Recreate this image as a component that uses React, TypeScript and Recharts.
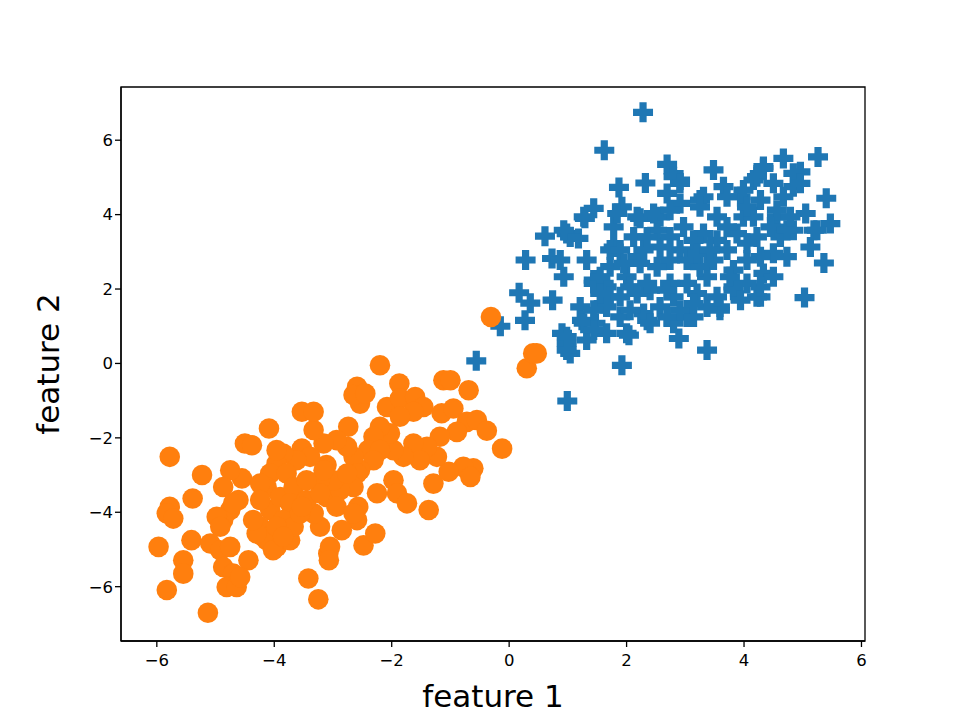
import { ScatterChart, Scatter, XAxis, YAxis, ReferenceArea } from "recharts";

// class 0 (blue, plus markers) — [feature 1, feature 2]
const class0: [number, number][] = [
  [2.28, 6.75], [1.62, 5.73], [2.69, 5.35], [2.32, 4.85], [4.67, 5.51], [5.26, 5.55], [4.96, 5.15], [3.48, 5.2],
  [4.33, 5.29], [1.87, 4.73], [5.4, 4.44], [5.05, 4.03], [5.47, 3.76], [5.36, 2.7], [5.03, 1.77], [4.28, 1.79],
  [3.37, 0.36], [2.89, 0.67], [1.92, -0.05], [0.99, -1.01], [-0.56, 0.07], [-0.15, 1.0], [0.27, 1.16], [0.17, 1.9],
  [0.36, 1.62], [0.74, 1.7], [0.28, 2.78], [0.73, 2.82], [0.87, 2.78], [0.93, 2.33], [0.61, 3.42], [0.98, 3.49],
  [1.18, 3.36], [1.32, 2.78], [1.29, 3.9], [1.44, 4.17], [0.9, 0.81], [0.98, 0.54], [1.04, 0.27], [1.32, 0.63],
  [1.21, 1.52], [1.24, 1.16], [1.47, 1.08], [1.66, 0.81], [2.04, 0.76], [1.44, 2.24], [1.78, 3.13], [1.92, 4.21],
  [2.23, 3.9], [2.57, 3.94], [2.69, 4.57], [2.91, 4.93], [3.25, 4.39], [3.65, 4.75], [3.94, 4.48], [4.16, 4.93],
  [4.5, 4.84], [4.84, 4.75], [5.19, 3.58], [4.73, 2.87], [4.5, 2.96], [5.13, 3.13], [3.82, 1.97], [3.59, 1.43],
  [3.14, 1.25], [2.8, 1.08], [2.35, 1.16], [1.89, 1.25], [1.61, 1.61], [1.66, 2.06], [4.56, 3.94], [4.84, 3.58],
  [4.62, 3.4], [2.8, 5.02], [2.91, 4.84], [2.91, 4.3], [3.31, 4.48], [3.25, 4.21], [3.71, 4.48], [3.99, 4.66],
  [4.22, 5.02], [4.33, 5.24], [4.84, 5.11], [4.96, 4.84], [5.24, 3.58], [4.56, 4.12], [4.62, 3.49], [4.22, 3.4],
  [4.28, 2.87], [4.33, 2.42], [4.22, 1.79], [3.82, 2.06], [3.99, 3.94], [3.88, 3.49], [3.71, 3.05], [3.48, 2.78],
  [3.37, 2.33], [3.59, 1.52], [3.37, 1.52], [3.31, 3.49], [3.54, 3.94], [3.14, 3.31], [2.97, 3.67], [2.91, 3.05],
  [3.03, 2.15], [3.03, 1.25], [2.52, 3.58], [2.57, 3.13], [2.52, 2.6], [2.4, 1.97], [2.57, 1.52], [2.29, 1.34],
  [2.0, 0.81], [2.18, 3.94], [2.12, 3.4], [2.18, 2.87], [2.0, 2.33], [1.78, 3.67], [1.84, 4.03], [1.72, 3.05],
  [1.72, 2.6], [1.61, 2.15], [1.44, 2.15], [1.72, 1.79], [1.89, 1.79], [1.66, 1.52], [1.27, 3.94], [1.04, 3.4],
  [0.93, 3.58], [1.27, 1.08], [1.44, 0.9], [0.98, 0.72], [0.98, 0.36], [2.06, 2.06], [2.23, 2.69], [2.74, 2.78],
  [2.74, 2.15], [2.8, 1.79], [2.69, 1.97], [3.2, 1.88], [3.25, 2.6], [3.82, 2.51], [4.05, 2.78], [4.05, 3.23],
  [3.71, 3.67], [3.54, 3.31], [4.45, 3.67], [4.73, 3.58], [4.79, 3.94], [4.67, 4.48], [4.28, 4.39], [4.16, 3.94],
  [4.05, 4.21], [4.5, 2.33], [2.18, 1.88], [2.35, 2.15], [2.69, 1.25], [2.4, 1.08], [2.91, 1.43], [3.14, 1.61],
  [3.54, 1.79], [3.94, 1.7], [4.28, 2.06], [4.05, 2.15], [3.76, 2.33], [1.89, 3.05], [1.95, 2.69], [2.29, 3.05],
  [2.35, 3.4], [2.46, 4.03], [2.74, 4.12], [2.74, 3.4], [3.03, 2.78], [3.2, 2.96], [3.42, 3.05], [1.55, 2.33],
  [1.55, 1.88], [1.44, 1.43], [2.06, 1.43],
];

// class 1 (orange, circle markers)
const class1: [number, number][] = [
  [-2.2, -0.05], [-2.59, -0.63], [-2.54, -1.08], [-2.65, -0.85], [-2.45, -0.81], [-1.87, -0.54], [-1.12, -0.45],
  [-1.0, -0.45], [-0.69, -0.72], [0.3, -0.13], [0.41, 0.27], [-0.31, 1.25], [0.47, 0.27], [-2.08, -1.17],
  [-1.86, -0.94], [-1.6, -0.9], [-1.46, -1.17], [-1.63, -1.3], [-1.86, -1.43], [-1.15, -1.34], [-0.95, -1.21],
  [-0.72, -1.57], [-0.55, -1.52], [-0.38, -1.81], [-0.12, -2.29], [-0.89, -1.84], [-1.18, -1.97], [-0.61, -2.82],
  [-0.78, -2.78], [-0.66, -3.05], [-1.37, -3.94], [-1.29, -3.23], [-1.03, -2.91], [-1.23, -2.51], [-1.4, -2.24],
  [-1.63, -2.15], [-1.52, -2.6], [-1.8, -2.51], [-1.97, -2.33], [-2.03, -1.88], [-2.2, -1.7], [-2.31, -1.97],
  [-2.4, -2.33], [-2.2, -2.33], [-2.31, -2.6], [-2.54, -2.87], [-2.65, -2.51], [-2.76, -2.24], [-2.74, -1.7],
  [-2.94, -2.06], [-3.16, -2.15], [-3.33, -1.79], [-3.53, -1.3], [-3.33, -1.3], [-3.53, -2.29], [-3.11, -2.73],
  [-2.25, -3.49], [-1.97, -3.14], [-1.91, -3.49], [-1.74, -3.76], [-2.59, -2.96], [-2.65, -3.32], [-2.57, -3.85],
  [-2.59, -4.21], [-2.85, -4.48], [-3.22, -4.39], [-3.33, -4.03], [-3.11, -3.59], [-2.88, -3.41], [-2.99, -3.14],
  [-3.22, -3.14], [-3.16, -2.87], [-3.39, -2.51], [-3.62, -2.6], [-3.85, -2.42], [-3.96, -2.69], [-4.07, -2.96],
  [-4.13, -3.32], [-4.07, -3.94], [-3.9, -3.59], [-3.79, -2.96], [-3.67, -3.32], [-3.73, -3.76], [-3.85, -4.21],
  [-4.24, -4.39], [-4.13, -4.75], [-3.96, -4.93], [-3.73, -4.75], [-3.67, -4.39], [-3.56, -4.03], [-3.45, -3.67],
  [-3.08, -5.11], [-3.05, -4.93], [-3.07, -5.29], [-3.42, -5.78], [-3.25, -6.34], [-2.48, -4.89], [-2.28, -4.57],
  [-4.61, -3.67], [-4.75, -3.94], [-4.87, -4.21], [-4.98, -4.12], [-4.92, -4.39], [-4.55, -3.09], [-4.75, -2.87],
  [-4.87, -3.32], [-5.23, -3.0], [-5.39, -3.63], [-5.78, -2.51], [-5.78, -3.85], [-5.83, -4.03], [-5.72, -4.17],
  [-5.97, -4.93], [-5.55, -5.29], [-5.55, -5.65], [-5.83, -6.09], [-5.13, -6.7], [-5.41, -4.75], [-5.09, -4.84],
  [-4.92, -5.02], [-4.87, -5.47], [-4.7, -5.65], [-4.81, -6.01], [-4.64, -6.01], [-4.75, -4.93], [-4.44, -5.29],
  [-4.58, -5.74], [-4.5, -2.15], [-4.38, -2.2], [-4.09, -1.75], [-4.7, -3.76], [-4.24, -3.23], [-4.24, -3.67],
  [-4.19, -4.66], [-4.3, -4.57], [-4.02, -5.02], [-4.36, -4.21], [-3.96, -4.39], [-3.85, -4.66], [-3.53, -3.85],
  [-3.96, -2.33], [-3.22, -3.49], [-2.94, -3.85], [-2.65, -4.03], [-2.76, -2.96], [-3.45, -3.14],
];

const xTicks = [-6, -4, -2, 0, 2, 4, 6];
const yTicks = [-6, -4, -2, 0, 2, 4, 6];
const xDomain: [number, number] = [-6.61, 6.06];
const yDomain: [number, number] = [-7.46, 7.43];

const FONT = "DejaVu Sans";
const BLUE = "#1f77b4";
const ORANGE = "#ff7f0e";

const toPoints = (arr: [number, number][]) => arr.map(([x, y]) => ({ x, y }));

const fmt = (v: number) => (v < 0 ? `\u2212${Math.abs(v)}` : `${v}`);

function PlusMarker(props: any) {
  const { cx, cy } = props;
  const a = 10;
  const b = 3.6;
  const d = `M${cx - b},${cy - a} H${cx + b} V${cy - b} H${cx + a} V${cy + b} H${cx + b} V${cy + a} H${cx - b} V${cy + b} H${cx - a} V${cy - b} H${cx - b} Z`;
  return <path d={d} fill={BLUE} />;
}

function CircleMarker(props: any) {
  const { cx, cy } = props;
  return <circle cx={cx} cy={cy} r={10.3} fill={ORANGE} />;
}

const tickStyle = { fontFamily: FONT, fontSize: 16.5, fill: "#000" };
const labelStyle = { fontFamily: FONT, fontSize: 31, fill: "#000" };

export default function App() {
  return (
    <ScatterChart width={944} height={712} margin={{ top: 79, right: 87, bottom: 0, left: 13 }}>
      <XAxis
        dataKey="x"
        type="number"
        domain={xDomain}
        ticks={xTicks}
        allowDataOverflow
        tickFormatter={fmt}
        tick={tickStyle}
        tickSize={6}
        tickMargin={7}
        height={79}
        axisLine={{ stroke: "#000", strokeWidth: 1.3 }}
        tickLine={{ stroke: "#000", strokeWidth: 1.3 }}
        label={{ value: "feature 1", position: "insideBottom", offset: 13, style: labelStyle }}
      />
      <YAxis
        dataKey="y"
        type="number"
        domain={yDomain}
        ticks={yTicks}
        allowDataOverflow
        tickFormatter={fmt}
        tick={tickStyle}
        tickSize={6}
        width={100}
        axisLine={{ stroke: "#000", strokeWidth: 1.3 }}
        tickLine={{ stroke: "#000", strokeWidth: 1.3 }}
        label={{ value: "feature 2", angle: -90, position: "insideLeft", offset: 27, style: { ...labelStyle, textAnchor: "middle" } }}
      />
      <ReferenceArea
        x1={xDomain[0]}
        x2={xDomain[1]}
        y1={yDomain[0]}
        y2={yDomain[1]}
        fill="none"
        stroke="#000"
        strokeWidth={1.3}
        ifOverflow="visible"
      />
      <Scatter data={toPoints(class0)} shape={<PlusMarker />} isAnimationActive={false} />
      <Scatter data={toPoints(class1)} shape={<CircleMarker />} isAnimationActive={false} />
    </ScatterChart>
  );
}
